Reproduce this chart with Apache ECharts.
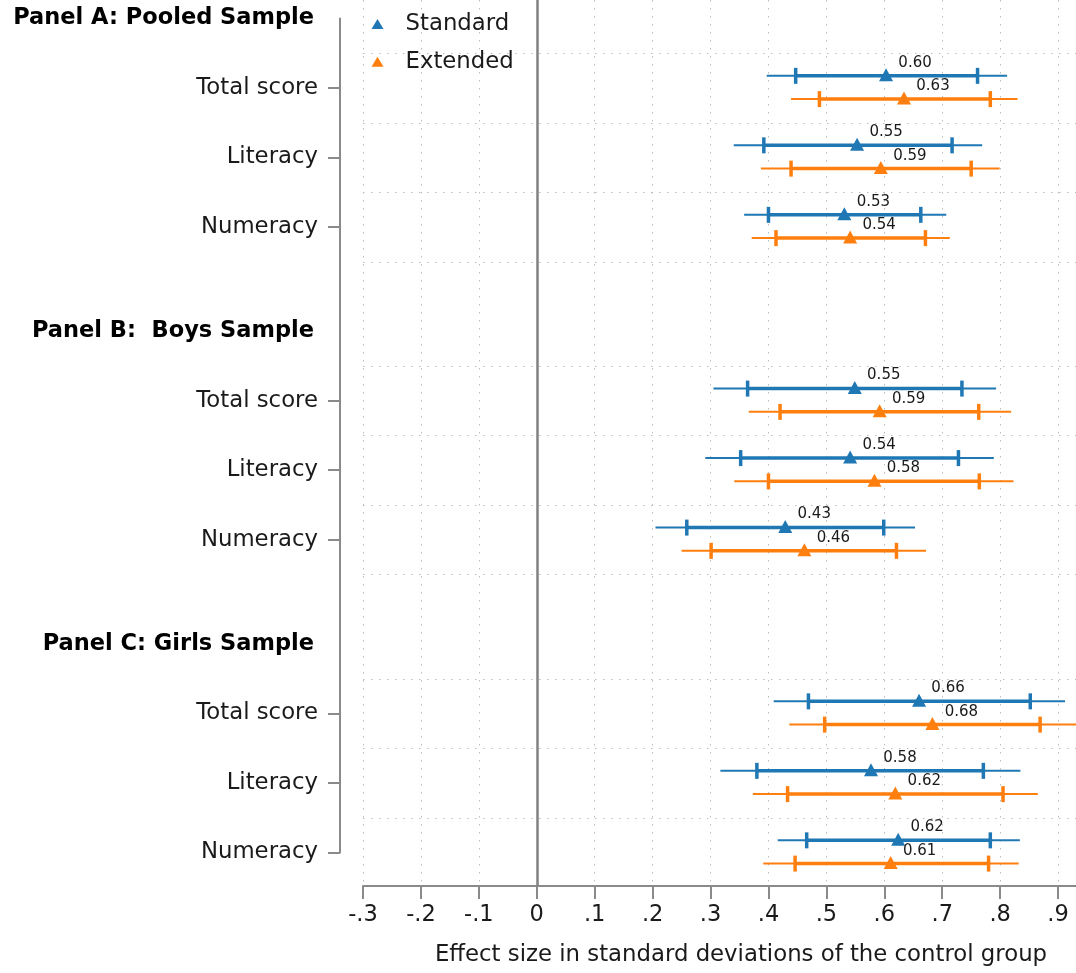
<!DOCTYPE html>
<html>
<head>
<meta charset="utf-8">
<script src="https://cdn.jsdelivr.net/npm/echarts@6/dist/echarts.min.js"></script>
<style>html,body{margin:0;padding:0;background:#fff;}#chart{width:1076px;height:973px;}</style>
</head>
<body>
<div id="chart"></div>
<script>
// ---- data ----
const panels = ['Panel A: Pooled Sample', 'Panel B:  Boys Sample', 'Panel C: Girls Sample'];
const categories = ['Total score', 'Literacy', 'Numeracy'];
const seriesNames = ['Standard', 'Extended'];
// order: A(Total, Literacy, Numeracy), B(...), C(...)
const stdPoint = [0.603, 0.553, 0.531, 0.549, 0.541, 0.429, 0.660, 0.577, 0.624];
const stdLo95  = [0.397, 0.340, 0.358, 0.305, 0.291, 0.205, 0.409, 0.317, 0.416];
const stdHi95  = [0.812, 0.769, 0.707, 0.793, 0.789, 0.653, 0.912, 0.835, 0.834];
const stdLo90  = [0.447, 0.392, 0.400, 0.364, 0.352, 0.259, 0.469, 0.380, 0.466];
const stdHi90  = [0.761, 0.717, 0.663, 0.734, 0.728, 0.599, 0.852, 0.771, 0.783];
const extPoint = [0.634, 0.594, 0.541, 0.592, 0.583, 0.462, 0.683, 0.619, 0.611];
const extLo95  = [0.439, 0.387, 0.371, 0.366, 0.341, 0.250, 0.436, 0.373, 0.391];
const extHi95  = [0.830, 0.799, 0.713, 0.819, 0.823, 0.672, 0.935, 0.865, 0.832];
const extLo90  = [0.488, 0.439, 0.413, 0.420, 0.400, 0.301, 0.497, 0.433, 0.446];
const extHi90  = [0.783, 0.750, 0.671, 0.763, 0.764, 0.621, 0.869, 0.805, 0.780];
const xTickValues = [-0.3, -0.2, -0.1, 0, 0.1, 0.2, 0.3, 0.4, 0.5, 0.6, 0.7, 0.8, 0.9, 1.0];
const xTickLabels = ['-.3', '-.2', '-.1', '0', '.1', '.2', '.3', '.4', '.5', '.6', '.7', '.8', '.9', '1'];
const xTitle = 'Effect size in standard deviations of the control group';

// ---- layout in data space ----
const PANEL_STEP = 4.5;
function rowY(i) { return Math.floor(i / 3) * PANEL_STEP + (i % 3); }
const tickVals = [], labelVals = [], labelMap = {}, gridVals = [];
panels.forEach((p, pi) => {
  const hy = pi * PANEL_STEP - 1;
  labelVals.push(hy); labelMap[String(hy)] = '{h|' + p + '}';
  categories.forEach((c, ci) => {
    const y = pi * PANEL_STEP + ci;
    tickVals.push(y); labelVals.push(y); labelMap[String(y)] = c;
  });
  for (let k = 0; k <= 3; k++) gridVals.push(pi * PANEL_STEP + k - 0.5);
});
const OFF = [-0.175, 0.16];
const COLORS = ['#1f77b4', '#ff7f0e'];

function ciData(lo95, hi95, lo90, hi90, off) {
  return lo95.map((v, i) => [v, hi95[i], lo90[i], hi90[i], rowY(i) + off]);
}
function ptData(pt, off) { return pt.map((v, i) => [v, rowY(i) + off]); }

function renderCI(params, api) {
  const y = api.value(4);
  const a = api.coord([api.value(0), y]);
  const b = api.coord([api.value(1), y]);
  const c = api.coord([api.value(2), y]);
  const d = api.coord([api.value(3), y]);
  const color = api.visual('color');
  const cap = 8;
  return {
    type: 'group',
    children: [
      { type: 'line', shape: { x1: a[0], y1: a[1], x2: b[0], y2: b[1] }, style: { stroke: color, lineWidth: 2 } },
      { type: 'line', shape: { x1: c[0], y1: c[1], x2: d[0], y2: d[1] }, style: { stroke: color, lineWidth: 3.5 } },
      { type: 'line', shape: { x1: c[0], y1: c[1] - cap, x2: c[0], y2: c[1] + cap }, style: { stroke: color, lineWidth: 3.5 } },
      { type: 'line', shape: { x1: d[0], y1: d[1] - cap, x2: d[0], y2: d[1] + cap }, style: { stroke: color, lineWidth: 3.5 } }
    ]
  };
}

const FONT = 'DejaVu Sans';
const FS = 22.8;
const AXIS_COLOR = '#8a8a8a';
const TEXT = '#1a1a1a';
const dotted = { type: [1.5, 6.5], color: '#bdbdbd', width: 1 };

function pointSeries(k, pts) {
  return {
    name: seriesNames[k], type: 'scatter', xAxisIndex: 0, yAxisIndex: 0,
    symbol: 'triangle', symbolSize: [14, 13], symbolOffset: [0, -1],
    itemStyle: { color: COLORS[k], opacity: 1 },
    data: ptData(pts, OFF[k]), z: 5,
    label: {
      show: true, position: 'inside', offset: [29, -12],
      formatter: p => p.value[0].toFixed(2),
      fontSize: 15, fontFamily: FONT, color: TEXT
    }
  };
}

const option = {
  animation: false,
  backgroundColor: '#fff',
  textStyle: { fontFamily: FONT },
  grid: [
    { left: 363, right: -40, top: 0, bottom: 87, outerBoundsMode: 'none', containLabel: false },
    { left: 340, width: 10, top: 18.5, height: 834, outerBoundsMode: 'none', containLabel: false }
  ],
  legend: {
    data: seriesNames.map(n => ({ name: n, icon: 'triangle' })),
    orient: 'vertical', left: 371.5, top: 11, padding: 0,
    itemWidth: 12, itemHeight: 10, itemGap: 11.7,
    textStyle: { fontSize: FS, color: TEXT, fontFamily: FONT, lineHeight: 26, padding: [0, 0, 0, 17] }
  },
  xAxis: [
    {
      type: 'value', gridIndex: 0, min: -0.3, max: 1.0, interval: 0.1,
      axisLine: { show: true, onZero: false, lineStyle: { color: AXIS_COLOR, width: 2 } },
      axisTick: { show: true, length: 13, customValues: xTickValues, lineStyle: { color: AXIS_COLOR, width: 2 } },
      axisLabel: {
        customValues: xTickValues, fontSize: 22.5, color: TEXT, margin: 18, fontFamily: FONT,
        formatter: v => { const i = xTickValues.findIndex(t => Math.abs(t - v) < 1e-6); return i >= 0 ? xTickLabels[i] : ''; }
      },
      splitLine: { show: true, lineStyle: dotted },
      name: xTitle, nameLocation: 'middle', nameGap: 58,
      nameTextStyle: { fontSize: FS, color: TEXT, fontFamily: FONT, padding: [0, 0, 0, 3] }
    },
    { type: 'value', gridIndex: 1, show: false, min: 0, max: 1 }
  ],
  yAxis: [
    { type: 'value', gridIndex: 0, min: -88 / 69.5, max: (886 - 88) / 69.5, inverse: true, show: false },
    {
      type: 'value', gridIndex: 1, min: -1, max: 11, inverse: true,
      axisLine: { show: true, onZero: false, lineStyle: { color: AXIS_COLOR, width: 2 } },
      axisTick: { show: true, length: 12, customValues: tickVals, lineStyle: { color: AXIS_COLOR, width: 2 } },
      axisLabel: {
        customValues: labelVals, margin: 22, fontSize: FS, color: TEXT, fontFamily: FONT,
        formatter: v => labelMap[String(v)] || '',
        rich: { h: { fontWeight: 'bold', fontSize: 22.5, color: '#000', fontFamily: FONT, padding: [0, 4, 0, 0] } }
      },
      splitLine: { show: false }
    }
  ],
  series: [
    {
      name: 'grid', type: 'line', xAxisIndex: 0, yAxisIndex: 0, data: [], z: 1, silent: true,
      markLine: {
        silent: true, symbol: ['none', 'none'], label: { show: false }, animation: false,
        lineStyle: dotted,
        data: gridVals.map(v => ({ yAxis: v })).concat([{ xAxis: 0, lineStyle: { type: 'solid', color: '#808080', width: 2.5 } }])
      }
    },
    { name: 'Standard CI', type: 'custom', xAxisIndex: 0, yAxisIndex: 0, renderItem: renderCI, itemStyle: { color: COLORS[0] },
      encode: { x: [0, 1, 2, 3], y: 4 }, data: ciData(stdLo95, stdHi95, stdLo90, stdHi90, OFF[0]), z: 3 },
    { name: 'Extended CI', type: 'custom', xAxisIndex: 0, yAxisIndex: 0, renderItem: renderCI, itemStyle: { color: COLORS[1] },
      encode: { x: [0, 1, 2, 3], y: 4 }, data: ciData(extLo95, extHi95, extLo90, extHi90, OFF[1]), z: 3 },
    pointSeries(0, stdPoint),
    pointSeries(1, extPoint)
  ]
};

const chart = echarts.init(document.getElementById('chart'), null, { renderer: 'canvas' });
chart.setOption(option);
</script>
</body>
</html>
